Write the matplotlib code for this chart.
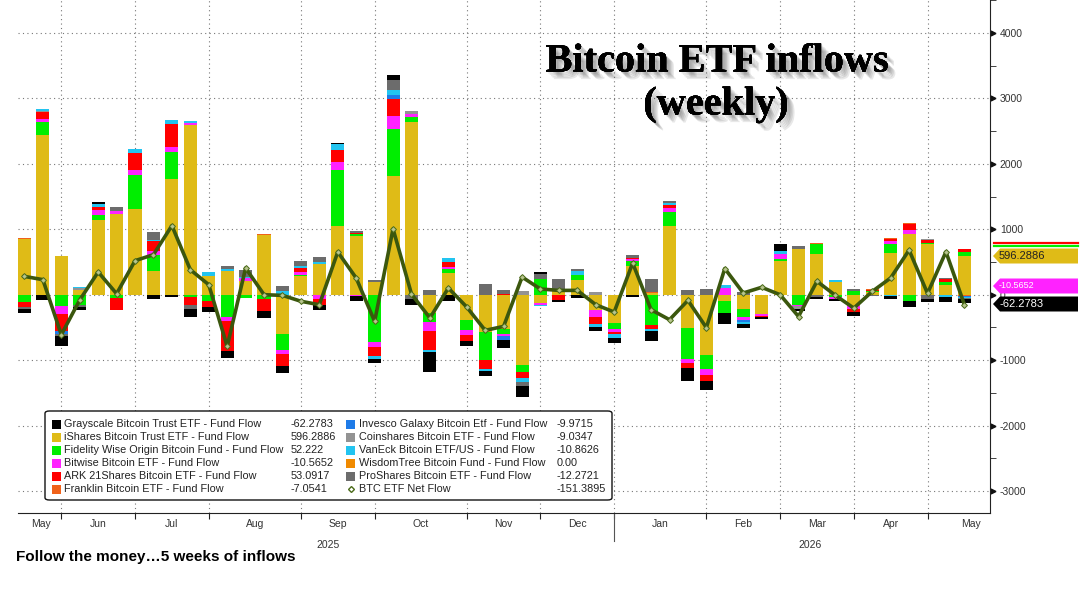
import numpy as np
import matplotlib.pyplot as plt
from matplotlib import patheffects as pe
from matplotlib.patches import FancyBboxPatch, Rectangle, Polygon
from matplotlib.lines import Line2D

# weekly fund flows ($m), May 2025 -> May 2026
grayscale = [-66, -77, -143, -41, 26, -10, -10, -66, -31, -128,
             -82, -117, 0, -102, -117, 0, -77, 26, -77, -71,
             77, -87, -301, -102, -82, -71, -128, -168, 26, -36,
             -51, -66, -77, -41, -154, -5, -200, -133, -180, -67,
             -26, 103, -26, -31, -36, -67, 0, -51, -87, -51,
             -82, -62.2783]
ishares = [857, 2448, 597, 75, 1137, 1240, 1316, 357, 1770, 2590,
           280, 357, 204, 918, -602, 280, 469, 1046, 893, 194,
           1821, 2637, -280, 332, -383, -571, -520, -1071, -128, 77,
           230, -230, -426, 436, 30, 1052, -513, -923, -103, -221,
           -298, 513, 692, 615, 190, -180, 36, 641, 923, 769,
           154, 596.2886]
fidelity = [-112, 194, -179, -153, 77, -46, 510, 245, 408, -41,
            -102, -347, -51, -66, -240, 15, 0, 857, 31, -729,
            704, 77, -143, 61, -153, -434, -77, -117, 240, 0,
            77, 0, -103, 77, -462, 205, -472, -205, -169, -123,
            0, 36, -154, 154, -36, 51, 15, 138, -103, 26,
            36, 52.222]
bitwise = [0, 51, -112, 0, 77, 36, 77, 61, 82, 36,
           0, -61, 51, 0, -61, 46, -61, 122, -26, -77,
           204, 51, -138, 30, -87, 0, -41, 0, -26, 0,
           0, -112, -36, 26, 0, 67, -56, -103, 103, -41,
           -20, 67, -26, 0, -31, -41, 0, 41, 67, 0,
           0, -10.5652]
ark = [-82, 97, -270, 0, 46, -184, 265, 153, 352, -112,
       -87, -449, 0, -189, -179, 66, -92, 194, 20, -128,
       255, 0, -280, 71, -77, -133, 15, -87, 0, -77,
       0, -102, -36, 25, -56, 51, -77, -87, 0, 0,
       -26, 0, 0, 0, 0, -36, 26, 36, 87, 41,
       51, 53.0917]
franklin = [10, 5, 0, 0, 0, 0, 5, 0, 0, 0,
            0, 0, 0, 8, 0, 0, 0, 0, 0, 0,
            10, 0, 0, 0, 0, 0, 0, 0, 0, 0,
            0, 0, 0, 0, 8, 0, 0, 0, 0, 0,
            0, 0, 0, 25, 0, 0, 8, 10, 15, 0,
            5, -7.0541]
invesco = [0, 0, -36, 0, 0, 0, 0, 0, 0, 0,
           0, 0, 0, 0, 0, 0, 0, 0, 0, 0,
           51, 0, 0, 0, 0, 0, -51, 0, 0, 0,
           0, 0, 0, 0, 0, 0, 0, 0, 0, -31,
           0, 0, 0, 0, 0, 0, 0, 0, 0, 0,
           0, -9.9715]
coinshares = [0, 20, 0, 30, 0, 0, 0, 0, 0, 0,
              0, 0, 0, 0, 0, 0, 0, 0, 0, 0,
              0, 41, 0, 0, 0, 0, 0, 51, 0, 0,
              0, 36, 0, 0, 0, 0, 0, 0, 0, 0,
              0, 0, -41, 0, 0, 0, 0, 0, 0, 10,
              0, -9.0347]
vaneck = [0, 20, 0, 20, 56, 0, 51, 26, 56, 26,
          66, 36, 20, 0, 51, 36, 26, 77, 0, -41,
          77, 0, -41, 66, 0, -26, 0, -61, -26, 0,
          51, -51, -67, 0, -31, 31, 0, 0, 41, -31,
          0, 51, 0, 0, 31, 0, 0, -15, 0, 0,
          -36, -10.8626]
wisdomtree = [0] * 51 + [0.0]
proshares = [-20, 0, -40, -36, 0, 61, 0, 117, 0, -66,
             0, 41, 108, 0, 87, 66, 77, 0, 31, 26,
             153, -66, 66, 0, 0, 163, 51, -66, 77, 163,
             41, 0, 0, 36, 200, 31, 77, 92, 0, 36,
             0, 0, 51, -36, 0, 36, -26, 0, 0, -67,
             15, -12.2721]
net_flow = [280, 230, -612, -80, 347, 15, 520, 612, 1056, 382,
            153, -790, 408, 0, -10, -100, -153, 653, 255, -407,
            1005, 10, -356, 102, -189, -545, -484, 270, 87, 66,
            66, -153, -265, 484, -229, -382, -87, -503, 400, 26,
            113, 0, -333, 205, -10, -205, 50, 256, 682, 20,
            656, -151.3895]

fund_names = ["Grayscale Bitcoin Trust ETF - Fund Flow",
              "iShares Bitcoin Trust ETF - Fund Flow",
              "Fidelity Wise Origin Bitcoin Fund - Fund Flow",
              "Bitwise Bitcoin ETF - Fund Flow",
              "ARK 21Shares Bitcoin ETF - Fund Flow",
              "Franklin Bitcoin ETF - Fund Flow",
              "Invesco Galaxy Bitcoin Etf - Fund Flow",
              "Coinshares Bitcoin ETF - Fund Flow",
              "VanEck Bitcoin ETF/US - Fund Flow",
              "WisdomTree Bitcoin Fund - Fund Flow",
              "ProShares Bitcoin ETF - Fund Flow"]
fund_colors = ["#000000", "#DFBB17", "#00EE00", "#FF22FF", "#FF0000", "#F0621A",
               "#1E7BE8", "#939393", "#22C4F0", "#F08A00", "#6C6C6C"]
legend_values = ["-62.2783", "596.2886", "52.222", "-10.5652", "53.0917", "-7.0541",
                 "-9.9715", "-9.0347", "-10.8626", "0.00", "-12.2721", "-151.3895"]

month_labels = ["May", "Jun", "Jul", "Aug", "Sep", "Oct", "Nov", "Dec",
                "Jan", "Feb", "Mar", "Apr", "May"]
month_pos = [0.9, 4, 8, 12.5, 17, 21.5, 26, 30, 34.5, 39, 43, 47, 51.35]
month_edges = [2, 6, 10, 15, 19, 24, 28, 32, 37, 41, 45, 49]

series = [grayscale, ishares, fidelity, bitwise, ark, franklin,
          invesco, coinshares, vaneck, wisdomtree, proshares]
# Bloomberg stacks grayscale last
stack_order = [1, 2, 3, 4, 5, 6, 7, 8, 9, 10, 0]

W, H = 1084, 591
fig = plt.figure(figsize=(W / 100, H / 100), dpi=100)
ax = fig.add_axes([18 / W, 78 / H, 972 / W, 513 / H])

weeks = np.arange(len(ishares))
pos_bot = np.zeros(len(weeks))
neg_bot = np.zeros(len(weeks))
for k in stack_order:
    v = np.array(series[k], dtype=float)
    p = np.where(v > 0, v, 0)
    n = np.where(v < 0, v, 0)
    ax.bar(weeks, p, 0.71, bottom=pos_bot, color=fund_colors[k], linewidth=0, zorder=2)
    ax.bar(weeks, n, 0.71, bottom=neg_bot, color=fund_colors[k], linewidth=0, zorder=2)
    pos_bot += p
    neg_bot += n

ax.plot(weeks, net_flow, color="#3B570E", lw=2.6, zorder=4,
        marker="D", ms=3, mfc="#b7c48e", mec="#4a6a18", mew=0.7)

ax.set_xlim(-0.35, 52.39)
ax.set_ylim(-3336, 4504)

# grid
for yv in range(-3000, 4001, 1000):
    ax.axhline(yv, color="#777777", lw=0.8, ls=(0, (1, 3)), zorder=1)
for xe in month_edges:
    ax.axvline(xe, color="#777777", lw=0.8, ls=(0, (1, 3)), zorder=1)

for s in ["left", "top"]:
    ax.spines[s].set_visible(False)
ax.spines["right"].set_color("#222222")
ax.spines["bottom"].set_color("#222222")

ax.yaxis.tick_right()
ax.set_yticks(range(-3000, 4001, 1000))
ax.set_yticklabels([str(v) for v in range(-3000, 4001, 1000)], fontsize=7.5,
                   color="#333333", family="Liberation Sans")
ax.set_yticks(range(-2500, 4501, 1000), minor=True)
ax.tick_params(axis="y", which="major", length=0, pad=7)
ax.tick_params(axis="y", which="minor", length=4, color="#222222")
ax.plot([1.0035] * 8, range(-3000, 4001, 1000), ">", color="#111111", ms=3.5,
        transform=ax.get_yaxis_transform(), clip_on=False)

ax.set_xticks(month_edges)
ax.set_xticklabels([])
ax.set_xticks(month_pos, minor=True)
ax.set_xticklabels(month_labels, minor=True, fontsize=7.5, color="#333333",
                   family="Liberation Sans")
ax.tick_params(axis="x", which="major", length=4, color="#222222")
ax.tick_params(axis="x", which="minor", length=0, pad=4)
ax.add_line(Line2D([32, 32], [0, -0.055], transform=ax.get_xaxis_transform(),
                   color="#555555", lw=0.8, clip_on=False))
ax.text(16.5, -0.052, "2025", transform=ax.get_xaxis_transform(), ha="center",
        va="top", fontsize=7.5, color="#333333", family="Liberation Sans")
ax.text(42.6, -0.052, "2026", transform=ax.get_xaxis_transform(), ha="center",
        va="top", fontsize=7.5, color="#333333", family="Liberation Sans")


def fx(px):
    return px / W


def fy(py):
    return 1 - py / H


# title with soft shadow
shadow = [pe.withSimplePatchShadow(offset=(o, -o), shadow_rgbFace="#444444", alpha=0.12)
          for o in (1.5, 2.5, 3.5, 4.5, 5.5)] + [pe.Normal()]
fig.text(fx(717), fy(62), "Bitcoin ETF inflows", ha="center", va="center",
         fontsize=29, fontweight="bold", family="Liberation Serif", path_effects=shadow)
fig.text(fx(716), fy(105), "(weekly)", ha="center", va="center",
         fontsize=29, fontweight="bold", family="Liberation Serif", path_effects=shadow)

fig.text(fx(16), fy(557), "Follow the money\u20265 weeks of inflows", ha="left", va="center",
         fontsize=11, fontweight="bold", family="Liberation Sans")

# legend box
box = FancyBboxPatch((fx(45), fy(500)), fx(612) - fx(45), fy(411) - fy(500),
                     boxstyle="round,pad=0,rounding_size=0.004", transform=fig.transFigure,
                     fc="white", ec="#111111", lw=1, zorder=5)
fig.patches.append(box)
lfont = dict(fontsize=7.8, color="#222222", family="Liberation Sans",
             va="center", zorder=6)
rows_y = [424, 437, 450, 463, 476, 489]
for i in range(12):
    col, r = divmod(i, 6)
    y = rows_y[r]
    sq_x, tx, vx = (52, 64, 291) if col == 0 else (346, 359, 557)
    if i < 11:
        fig.patches.append(Rectangle((fx(sq_x), fy(y + 5)), fx(9), 9 / H,
                                     transform=fig.transFigure, fc=fund_colors[i],
                                     ec="none", zorder=6))
        name = fund_names[i]
    else:
        fig.lines.append(Line2D([fx(sq_x + 4.5)], [fy(y)], transform=fig.transFigure,
                                marker="D", ms=3, mfc="none", mec="#4a6a18", zorder=6))
        name = "BTC ETF Net Flow"
    fig.text(fx(tx), fy(y), name, **lfont)
    fig.text(fx(vx), fy(y), legend_values[i], **lfont)


# last value tags on the right
def value_tag(yc, color, text, tcolor, size=8):
    pts = [(fx(993), fy(yc)), (fx(1000), fy(yc - 7.5)), (fx(1078), fy(yc - 7.5)),
           (fx(1078), fy(yc + 7.5)), (fx(1000), fy(yc + 7.5))]
    fig.patches.append(Polygon(pts, closed=True, transform=fig.transFigure,
                               fc=color, ec="none"))
    fig.text(fx(999), fy(yc), text, color=tcolor, fontsize=size, family="Liberation Sans",
             va="center", ha="left")


fig.lines.append(Line2D([fx(994), fx(1078)], [fy(242.5), fy(242.5)], transform=fig.transFigure,
                        color="#FF0000", lw=1.6))
fig.lines.append(Line2D([fx(994), fx(1078)], [fy(245.5), fy(245.5)], transform=fig.transFigure,
                        color="#00EE00", lw=1.6))
value_tag(256, fund_colors[1], legend_values[1], "#222222")
value_tag(286, fund_colors[3], legend_values[3], "white", size=6.5)
value_tag(304, "#000000", legend_values[0], "white")

fig.savefig("out.png", dpi=100)
